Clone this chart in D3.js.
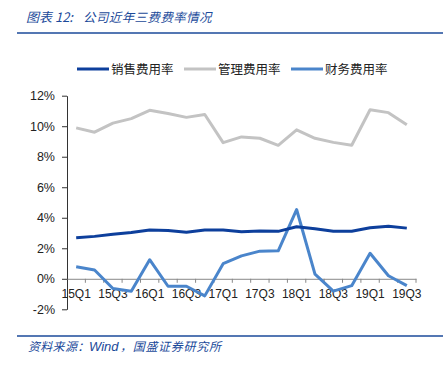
<!DOCTYPE html>
<html>
<head>
<meta charset="utf-8">
<script src="https://cdn.jsdelivr.net/npm/d3@7"></script>
<style>
  body { margin: 0; background: #fff; }
  text { font-family: "Liberation Sans", Arial, sans-serif; }
  .cn { font-family: "Noto Sans CJK SC", sans-serif; }
</style>
</head>
<body>
<div id="vis"></div>
<script>
const FRAME_WIDTH = 443;
const FRAME_HEIGHT = 375;
const MARGINS = {left: 67, right: 27, top: 96, bottom: 66};

// quarters 15Q1 .. 19Q3
const quarters = ["15Q1","15Q2","15Q3","15Q4","16Q1","16Q2","16Q3","16Q4",
                  "17Q1","17Q2","17Q3","17Q4","18Q1","18Q2","18Q3","18Q4",
                  "19Q1","19Q2","19Q3"];
// values in %
const sales = [2.69, 2.78, 2.92, 3.03, 3.2, 3.16, 3.05, 3.2, 3.2, 3.09,
               3.13, 3.11, 3.41, 3.28, 3.11, 3.11, 3.34, 3.45, 3.32];
const admin = [9.89, 9.61, 10.2, 10.5, 11.04, 10.83, 10.58, 10.77, 8.92, 9.3,
               9.21, 8.75, 9.76, 9.21, 8.94, 8.75, 11.08, 10.89, 10.09];
const finance = [0.79, 0.58, -0.64, -0.81, 1.25, -0.49, -0.49, -1.12, 0.99, 1.5,
                 1.81, 1.83, 4.54, 0.3, -0.81, -0.45, 1.67, 0.2, -0.45];
const yTicks = [-2, 0, 2, 4, 6, 8, 10, 12];

const seriesNames = ["销售费用率", "管理费用率", "财务费用率"];
const seriesColors = ["#0d3f9c", "#c3c3c3", "#4a85cb"];
const seriesData = [sales, admin, finance];

const svg = d3.select("#vis").append("svg")
    .attr("width", FRAME_WIDTH)
    .attr("height", FRAME_HEIGHT);

// title + rules
const title = svg.append("text").attr("class", "cn")
    .attr("y", 22)
    .attr("font-style", "italic")
    .attr("fill", "#1b4a9a");
title.append("tspan").attr("x", 26).attr("font-size", 13).text("图表 12:");
title.append("tspan").attr("x", 83).attr("font-size", 12.5)
    .attr("letter-spacing", 0.4).text("公司近年三费费率情况");

svg.append("line").attr("x1", 17).attr("x2", 443).attr("y1", 33).attr("y2", 33)
    .attr("stroke", "#1b4a9a").attr("stroke-width", 1.5);
svg.append("line").attr("x1", 17).attr("x2", 443).attr("y1", 336).attr("y2", 336)
    .attr("stroke", "#1b4a9a").attr("stroke-width", 1.5);

const source = svg.append("text").attr("class", "cn")
    .attr("y", 351)
    .attr("font-style", "italic")
    .attr("fill", "#1b4a9a");
source.append("tspan").attr("x", 28).attr("font-size", 12)
    .attr("letter-spacing", 0.3).text("资料来源：");
source.append("tspan").attr("x", 89).attr("font-size", 13)
    .attr("font-family", "Liberation Sans").text("Wind");
source.append("tspan").attr("x", 120).attr("font-size", 12)
    .attr("letter-spacing", 0.7).text("，国盛证券研究所");

const X_SCALE = d3.scaleBand()
    .domain(quarters)
    .range([MARGINS.left, FRAME_WIDTH - MARGINS.right]);
const Y_SCALE = d3.scaleLinear()
    .domain([-2, 12])
    .range([309.3, 95.7]);

// y axis
const yAxis = svg.append("g")
    .attr("transform", "translate(" + MARGINS.left + ",0)")
    .call(d3.axisLeft(Y_SCALE).tickValues(yTicks)
          .tickFormat(d => d + "%").tickSize(5).tickSizeOuter(0));
yAxis.select(".domain").attr("stroke", "#333");
yAxis.selectAll(".tick line").attr("stroke", "#333");
yAxis.selectAll("text").attr("font-size", 12.5).attr("fill", "#222")
    .attr("font-family", "Liberation Sans").attr("x", -12);

// x axis at 0%
const xAxis = svg.append("g")
    .attr("transform", "translate(0," + Y_SCALE(0) + ")")
    .call(d3.axisBottom(X_SCALE).tickSize(0).tickSizeOuter(0)
          .tickFormat((d, i) => i % 2 === 0 ? d : ""));
xAxis.select(".domain").attr("stroke", "#888");
xAxis.selectAll("text").attr("font-size", 12).attr("fill", "#222")
    .attr("font-family", "Liberation Sans").attr("dy", "0.71em").attr("y", 11);
// tick marks on band boundaries
xAxis.selectAll(".bound")
    .data(quarters)
    .enter().append("line")
      .attr("x1", d => X_SCALE(d) + X_SCALE.step())
      .attr("x2", d => X_SCALE(d) + X_SCALE.step())
      .attr("y1", 0).attr("y2", 4)
      .attr("stroke", "#888");

// lines
const line = d3.line()
    .x((d, i) => X_SCALE(quarters[i]) + X_SCALE.bandwidth() / 2)
    .y(d => Y_SCALE(d));

// draw order: admin, finance, sales on top
[1, 2, 0].forEach(k => {
  svg.append("path")
      .datum(seriesData[k])
      .attr("fill", "none")
      .attr("stroke", seriesColors[k])
      .attr("stroke-width", 3)
      .attr("stroke-linejoin", "round")
      .attr("d", line);
});

// legend
const legendX = [77, 184, 291];
const legend = svg.selectAll(".legend")
    .data(seriesNames)
    .enter().append("g")
      .attr("transform", (d, i) => "translate(" + legendX[i] + ",69)");
legend.append("line")
    .attr("x1", 0).attr("x2", 32).attr("y1", 0).attr("y2", 0)
    .attr("stroke", (d, i) => seriesColors[i]).attr("stroke-width", 3);
legend.append("text").attr("class", "cn")
    .attr("x", 34).attr("y", 4.5)
    .attr("font-size", 12.5).attr("fill", "#222")
    .text(d => d);
</script>
</body>
</html>
